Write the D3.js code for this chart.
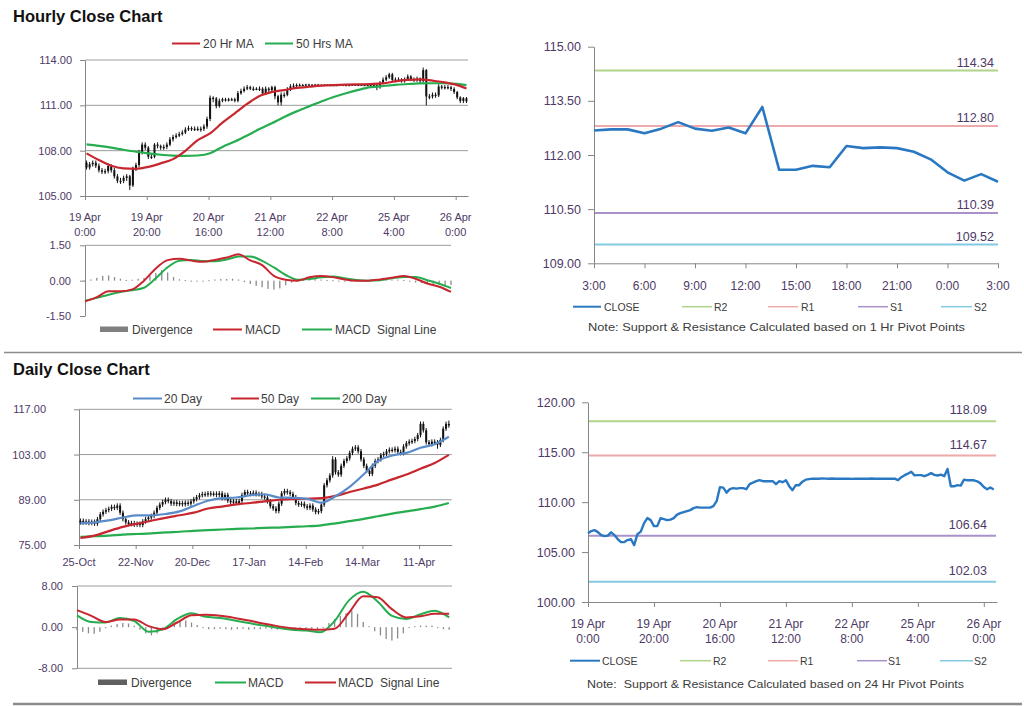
<!DOCTYPE html>
<html><head><meta charset="utf-8">
<script src="https://cdn.jsdelivr.net/npm/d3@7"></script>
<style>body{margin:0;background:#fff;}svg{display:block;}</style>
</head><body>
<svg id="c" width="1024" height="706"></svg>
<script>
// ---------------- DATA ----------------
// Hourly candles (19 Apr 0:00 .. 26 Apr 3:00)
const hourlyOpen = [107.2,106.89,107.1,107.2,107.0,106.7,106.6,106.65,106.98,106.7,
106.3,106.0,106.0,106.2,106.3,105.7,106.8,107.05,107.9,108.4,
108.2,107.6,107.6,108.4,108.3,108.2,108.25,108.4,108.75,108.9,
109.0,109.1,109.2,109.4,109.5,109.45,109.45,109.45,109.45,109.6,
110.1,111.5,111.45,110.95,111.3,111.4,111.35,111.4,111.4,111.3,
111.8,111.95,112.1,112.2,112.1,112.1,112.1,112.1,111.8,112.1,
112.0,112.2,111.6,111.2,111.7,111.7,112.05,112.25,112.3,112.35,
112.35,112.35,112.38,112.36,112.35,112.37,112.35,112.34,112.36,112.35,
112.35,112.33,112.35,112.36,112.35,112.34,112.35,112.37,112.35,112.36,
112.35,112.34,112.35,112.36,112.35,112.2,112.5,112.7,112.85,113.05,
112.68,112.71,112.71,112.60,112.73,112.91,112.73,112.67,112.76,112.60,
113.33,111.59,111.59,111.70,111.66,112.25,112.19,112.21,112.19,112.09,
111.88,111.52,111.29,111.47];
const hourlyHigh = [107.35,107.25,107.35,107.35,107.15,106.85,106.8,107.15,107.1,106.85,
106.45,106.2,106.35,106.45,106.4,106.95,107.2,108.05,108.55,108.55,
108.3,107.8,108.5,108.55,108.4,108.4,108.55,108.9,109.05,109.15,
109.25,109.35,109.55,109.65,109.6,109.6,109.6,109.6,109.75,110.25,
111.65,111.6,111.55,111.45,111.5,111.5,111.5,111.5,111.5,111.95,
112.1,112.25,112.35,112.3,112.25,112.2,112.25,112.2,112.25,112.2,
112.3,112.3,111.7,111.85,111.85,112.2,112.4,112.45,112.45,112.45,
112.42,112.43,112.43,112.41,112.42,112.42,112.4,112.41,112.41,112.4,
112.4,112.4,112.41,112.41,112.4,112.4,112.42,112.42,112.41,112.41,
112.4,112.4,112.41,112.41,112.4,112.6,112.85,113.0,113.15,113.15,
112.85,112.85,112.8,112.85,113.05,113.0,112.85,112.9,112.85,113.5,
113.4,111.75,111.85,111.85,112.4,112.35,112.35,112.35,112.3,112.2,
111.95,111.6,111.55,111.55];
const hourlyLow = [106.75,106.75,106.95,106.85,106.55,106.45,106.45,106.5,106.55,106.15,
105.85,105.8,105.85,106.0,105.4,105.6,106.65,106.9,107.75,108.05,
107.45,107.45,107.5,108.15,108.05,108.05,108.1,108.3,108.6,108.8,
108.9,109.0,109.1,109.3,109.3,109.3,109.3,109.25,109.3,109.45,
109.95,111.2,110.8,110.85,111.2,111.25,111.25,111.3,111.2,111.2,
111.7,111.85,112.0,112.0,111.95,112.0,111.95,111.65,111.7,111.85,
111.9,111.4,111.0,111.0,111.5,111.6,111.95,112.15,112.2,112.25,
112.3,112.3,112.31,112.3,112.3,112.3,112.29,112.29,112.3,112.3,
112.28,112.28,112.3,112.3,112.29,112.29,112.3,112.3,112.3,112.3,
112.29,112.29,112.3,112.3,112.0,112.1,112.4,112.6,112.75,112.55,
112.55,112.6,112.5,112.5,112.65,112.6,112.55,112.55,112.45,112.5,
111.0,111.4,111.45,111.5,111.55,112.05,112.05,112.05,111.95,111.75,
111.4,111.15,111.15,111.15];
const hourlyClose = [106.89,107.1,107.2,107.0,106.7,106.6,106.65,106.98,106.7,106.3,
106.0,106.0,106.2,106.3,105.7,106.8,107.05,107.9,108.4,108.2,
107.6,107.6,108.4,108.3,108.2,108.25,108.4,108.75,108.9,109.0,
109.1,109.2,109.4,109.5,109.45,109.45,109.45,109.45,109.6,110.1,
111.5,111.45,110.95,111.3,111.4,111.35,111.4,111.4,111.3,111.8,
111.95,112.1,112.2,112.1,112.1,112.1,112.1,111.8,112.1,112.0,
112.2,111.6,111.2,111.7,111.7,112.05,112.25,112.3,112.35,112.35,
112.35,112.38,112.36,112.35,112.37,112.35,112.34,112.36,112.35,112.35,
112.33,112.35,112.36,112.35,112.34,112.35,112.37,112.35,112.36,112.35,
112.34,112.35,112.36,112.35,112.2,112.5,112.7,112.85,113.05,112.68,
112.71,112.71,112.60,112.73,112.91,112.73,112.67,112.76,112.60,113.33,
111.59,111.59,111.70,111.66,112.25,112.19,112.21,112.19,112.09,111.88,
111.52,111.29,111.47,111.26];
const hourlyTickDates = ["19 Apr","19 Apr","20 Apr","21 Apr","22 Apr","25 Apr","26 Apr"];
const hourlyTickTimes = ["0:00","20:00","16:00","12:00","8:00","4:00","0:00"];
const hourlyTickIdx = [0,20,40,60,80,100,120];

// Hourly moving averages (bar index, value)
const hourlyMAIdx = [0,4,8,12,16,20,24,28,32,36,40,44,48,52,56,60,64,68,72,76,80,84,88,92,96,100,104,108,112,116,120,123];
const ma20Hr = [107.82,107.38,107.0,106.83,106.8,106.93,107.16,107.44,107.99,108.7,109.15,109.85,110.47,111.09,111.62,111.88,112.01,112.15,112.23,112.3,112.34,112.37,112.39,112.41,112.45,112.59,112.68,112.72,112.63,112.52,112.34,112.12];
const ma50Hr = [108.42,108.32,108.2,108.06,107.93,107.82,107.73,107.67,107.65,107.68,107.83,108.25,108.6,109.0,109.43,109.82,110.23,110.6,110.93,111.25,111.55,111.8,112.02,112.2,112.28,112.35,112.41,112.45,112.46,112.46,112.42,112.34];

// Hourly MACD (every 4th bar) and divergence (every 2nd bar)
const hMacdStep = 4;
const hourlyMacd = [-0.88,-0.7,-0.45,-0.45,-0.37,0.0,0.52,0.87,0.93,0.85,0.8,0.88,0.98,1.12,0.86,0.66,0.2,0.04,0.0,0.14,0.2,0.15,0.05,0.0,0.0,0.05,0.12,0.2,0.08,-0.12,-0.26,-0.48];
const hourlySignal = [-0.85,-0.73,-0.6,-0.48,-0.41,-0.3,0.1,0.57,0.84,0.88,0.83,0.82,0.9,1.02,1.03,0.84,0.56,0.24,0.04,0.07,0.14,0.18,0.1,0.03,0.0,0.02,0.1,0.16,0.15,0.02,-0.13,-0.31];
const hDivStep = 2;
const hourlyDivergence = [0.0,0.05,0.12,0.2,0.22,0.15,0.08,0.03,0.04,0.08,0.12,0.2,0.32,0.45,0.35,0.15,0.06,0.03,0.0,-0.03,-0.03,0.02,0.05,0.07,0.07,0.08,0.05,-0.06,-0.14,-0.22,-0.28,-0.35,-0.38,-0.33,-0.2,-0.08,-0.02,0.03,0.05,0.06,0.05,0.03,0.02,-0.02,-0.03,-0.03,-0.02,0.0,0.02,0.03,0.04,0.04,0.05,0.05,0.03,-0.04,-0.08,-0.1,-0.13,-0.15,-0.16,-0.18,-0.18];

// Last 24h closes (3:00 .. 3:00) with 1 Hr pivots
const recentClose = [112.68,112.71,112.71,112.60,112.73,112.91,112.73,112.67,112.76,112.60,113.33,111.59,111.59,111.70,111.66,112.25,112.19,112.21,112.19,112.09,111.88,111.52,111.29,111.47,111.26];
const recentTickLabels = ["3:00","6:00","9:00","12:00","15:00","18:00","21:00","0:00","3:00"];
const hourPivotNames = ["R2","R1","S1","S2"];
const hourPivots = [114.34,112.80,110.39,109.52];
const dayPivots = [118.09,114.67,106.64,102.03];

// Daily candles (25-Oct .. 26-Apr)
const dailyOpen = [82.0,82.5,82.0,82.3,81.8,82.2,81.6,83.0,84.5,85.3,
85.8,86.2,86.8,86.5,87.2,85.0,83.0,82.0,81.5,81.8,
81.3,81.6,81.2,82.3,83.0,83.5,84.0,85.0,86.5,87.5,
88.3,89.0,88.6,87.8,88.2,87.7,88.0,87.6,88.1,87.8,
88.5,89.2,89.8,90.4,90.8,90.6,91.0,90.7,90.9,90.5,
91.0,89.5,90.5,88.7,88.2,88.5,88.0,88.6,90.5,91.4,
91.0,90.8,91.2,90.7,90.8,90.0,89.7,88.5,87.0,86.3,
85.5,87.8,91.0,91.7,91.3,90.8,89.8,88.0,87.5,87.8,
87.0,86.5,87.2,86.0,85.2,85.5,87.5,93.5,95.0,96.5,
101.5,97.5,96.8,99.5,101.0,101.8,103.5,104.8,105.2,104.0,
101.5,99.5,98.0,97.0,99.5,101.0,101.5,102.8,103.2,104.0,
104.5,104.3,104.8,103.8,103.4,105.5,106.5,107.0,107.2,107.8,
109.0,112.5,110.5,106.8,106.2,107.0,106.8,106.0,107.5,111.0,
112.5];
const dailyHigh = [83.2,83.2,83.0,83.0,82.9,82.9,83.7,85.2,86.0,86.5,
86.9,87.5,87.5,87.9,87.9,85.7,83.7,82.7,82.5,82.5,
82.3,82.3,83.0,83.7,84.2,84.7,85.7,87.2,88.2,89.0,
89.7,89.7,89.3,88.9,88.9,88.7,88.7,88.8,88.8,89.2,
89.9,90.5,91.1,91.5,91.5,91.7,91.7,91.6,91.6,91.7,
91.7,91.2,91.2,89.4,89.2,89.2,89.3,91.2,92.1,92.1,
91.7,91.9,91.9,91.5,91.5,90.7,90.4,89.2,87.7,87.0,
88.5,91.7,92.4,92.4,92.0,91.5,90.5,88.7,88.5,88.5,
87.7,87.9,87.9,86.7,86.2,88.2,94.2,95.7,97.2,102.5,
102.2,98.2,100.2,101.7,102.5,104.2,105.5,105.9,105.9,104.7,
102.2,100.2,98.7,100.2,101.7,102.2,103.5,103.9,104.7,105.2,
105.2,105.5,105.5,104.5,106.2,107.2,107.7,107.9,108.5,109.7,
113.2,113.2,111.2,107.5,107.7,107.7,107.5,108.2,111.7,113.2,
113.5];
const dailyLow = [81.3,81.3,81.3,81.1,81.1,80.9,80.9,82.3,83.8,84.6,
85.1,85.5,85.8,85.8,84.3,82.3,81.3,80.8,80.8,80.6,
80.6,80.5,80.5,81.6,82.3,82.8,83.3,84.3,85.8,86.8,
87.6,87.9,87.1,87.1,87.0,87.0,86.9,86.9,87.1,87.1,
87.8,88.5,89.1,89.7,89.9,89.9,90.0,90.0,89.8,89.8,
88.8,88.8,88.0,87.5,87.5,87.3,87.3,87.9,89.8,90.3,
90.1,90.1,90.0,90.0,89.3,89.0,87.8,86.3,85.6,84.8,
84.8,87.1,90.3,90.6,90.1,89.1,87.3,86.8,86.8,86.3,
85.8,85.8,85.3,84.5,84.5,84.8,86.8,92.8,94.3,95.8,
96.8,96.1,96.1,98.8,100.3,101.1,102.8,104.1,103.3,100.8,
98.8,97.3,96.3,96.3,98.8,100.3,100.8,102.1,102.5,103.3,
103.6,103.6,103.1,102.7,102.7,104.8,105.8,106.3,106.5,107.1,
108.3,109.8,106.1,105.5,105.5,106.1,104.8,105.3,106.8,110.3,
111.3];
const dailyClose = [82.5,82.0,82.3,81.8,82.2,81.6,83.0,84.5,85.3,85.8,
86.2,86.8,86.5,87.2,85.0,83.0,82.0,81.5,81.8,81.3,
81.6,81.2,82.3,83.0,83.5,84.0,85.0,86.5,87.5,88.3,
89.0,88.6,87.8,88.2,87.7,88.0,87.6,88.1,87.8,88.5,
89.2,89.8,90.4,90.8,90.6,91.0,90.7,90.9,90.5,91.0,
89.5,90.5,88.7,88.2,88.5,88.0,88.6,90.5,91.4,91.0,
90.8,91.2,90.7,90.8,90.0,89.7,88.5,87.0,86.3,85.5,
87.8,91.0,91.7,91.3,90.8,89.8,88.0,87.5,87.8,87.0,
86.5,87.2,86.0,85.2,85.5,87.5,93.5,95.0,96.5,101.5,
97.5,96.8,99.5,101.0,101.8,103.5,104.8,105.2,104.0,101.5,
99.5,98.0,97.0,99.5,101.0,101.5,102.8,103.2,104.0,104.5,
104.3,104.8,103.8,103.4,105.5,106.5,107.0,107.2,107.8,109.0,
112.5,110.5,106.8,106.2,107.0,106.8,106.0,107.5,111.0,112.5,
112.0];
const dailyTickLabels = ["25-Oct","22-Nov","20-Dec","17-Jan","14-Feb","14-Mar","11-Apr"];
const dailyTickIdx = [0,20,40,60,80,100,120];

// Daily moving averages (every 5th bar)
const dMAStep = 5;
const ma20Day = [81.7,82.0,82.6,83.5,84.2,84.2,84.6,85.4,87.1,88.7,89.5,89.7,90.4,90.7,89.7,89.6,89.3,88.1,90.1,93.0,96.9,101.0,102.7,103.5,105.1,106.2,108.5];
const ma50Day = [77.2,77.9,79.3,80.6,81.6,82.5,83.4,84.2,85.0,86.3,86.9,87.6,88.0,88.5,89.0,89.2,89.3,89.5,90.2,91.4,92.5,93.7,95.3,96.8,98.6,100.4,102.9];
const ma200Day = [77.5,77.7,77.9,78.2,78.4,78.6,78.9,79.1,79.4,79.6,79.8,80.0,80.1,80.3,80.4,80.6,80.8,81.1,81.7,82.4,83.1,83.9,84.7,85.4,86.1,86.9,88.0];

// Daily MACD (every 5th bar), divergence (every 2nd bar)
const dMacdStep = 5;
const dailyMacd = [2.3,1.0,0.9,1.8,1.2,-0.9,-0.4,1.6,2.7,2.0,1.8,1.3,0.8,0.3,-0.1,-0.5,-0.65,-1.0,1.2,5.2,6.9,5.0,2.2,1.6,2.5,3.2,1.9];
const dailySignal = [3.3,2.2,1.0,1.5,1.5,0.2,-0.4,0.9,2.3,2.4,2.2,1.8,1.3,0.7,0.2,-0.2,-0.4,-0.5,-0.3,2.8,6.0,5.8,3.5,1.9,2.1,2.6,2.6];
const dDivStep = 2;
const dailyDivergence = [-0.6,-0.9,-1.2,-1.3,-0.9,-0.2,0.3,0.6,0.8,0.7,
0.3,-0.5,-1.2,-1.6,-1.2,-0.5,0.3,0.9,1.2,1.3,
0.9,0.4,-0.2,-0.4,-0.4,-0.3,-0.4,-0.5,-0.4,-0.3,
-0.5,-0.4,-0.4,-0.3,-0.4,-0.5,-0.3,-0.3,-0.4,-0.3,
-0.3,-0.4,-0.5,-0.2,0.8,1.6,2.2,2.7,3.2,2.6,
1.0,0.2,-0.8,-1.6,-2.3,-2.6,-2.2,-1.2,-0.2,0.2,
0.3,0.3,0.3,-0.2,-0.4,-0.5];

// ---------------- DRAWING ----------------
const svg = d3.select('#c');
const FONT = '"Liberation Sans", Arial, Helvetica, sans-serif';
const LBL = '#4e3a66';
const TXT = '#3c3c3c';
const AXC = '#868686';
const GRIDC = '#9c9c9c';
const RED = '#c8262e', GREEN = '#26ad4f', BLUE20 = '#5a8bc9', CLOSEC = '#2a78c2';
const PIVC = ['#afd48a', '#eeaaaa', '#a892c9', '#83c9e2'];
const fmt2 = d => d.toFixed(2);

function txt(x, y, s, o = {}) {
  const t = svg.append('text').attr('x', x).attr('y', y).text(s)
    .attr('font-family', FONT).attr('font-size', o.size || 11)
    .attr('fill', o.fill || TXT).attr('text-anchor', o.anchor || 'start');
  if (o.weight) t.attr('font-weight', o.weight);
  if (o.len) t.attr('textLength', o.len).attr('lengthAdjust', 'spacingAndGlyphs');
  if (o.space) t.attr('xml:space', 'preserve').style('white-space', 'pre');
  return t;
}
function hline(x1, x2, y, color, w) {
  svg.append('line').attr('x1', x1).attr('x2', x2).attr('y1', y).attr('y2', y)
    .attr('stroke', color).attr('stroke-width', w || 1);
}
function leftAxis(y, x0, vals, tickLen, pad, size) {
  const g = svg.append('g').attr('transform', `translate(${x0},0)`)
    .call(d3.axisLeft(y).tickValues(vals).tickFormat(fmt2)
      .tickSize(tickLen).tickSizeOuter(0).tickPadding(pad));
  g.select('.domain').attr('stroke', AXC);
  g.selectAll('.tick line').attr('stroke', AXC);
  g.selectAll('.tick text').attr('fill', LBL).attr('font-family', FONT).attr('font-size', size);
  return g;
}
function bottomAxis(x, y0, vals, tickLen) {
  const g = svg.append('g').attr('transform', `translate(0,${y0})`)
    .call(d3.axisBottom(x).tickValues(vals).tickFormat('').tickSize(tickLen).tickSizeOuter(0));
  g.select('.domain').attr('stroke', AXC);
  g.selectAll('.tick line').attr('stroke', AXC);
  return g;
}
function grid(x, y, vals) {
  svg.append('g').selectAll('line').data(vals).join('line')
    .attr('x1', x.range()[0]).attr('x2', x.range()[1])
    .attr('y1', d => y(d)).attr('y2', d => y(d)).attr('stroke', GRIDC).attr('stroke-width', 1);
}
function candles(x, y, O, H, L, C, w) {
  const g = svg.append('g');
  const idx = d3.range(C.length);
  g.selectAll('line').data(idx).join('line')
    .attr('x1', i => x(i + 0.5)).attr('x2', i => x(i + 0.5))
    .attr('y1', i => y(H[i])).attr('y2', i => y(L[i]))
    .attr('stroke', '#111').attr('stroke-width', 1);
  g.selectAll('rect').data(idx).join('rect')
    .attr('x', i => x(i + 0.5) - w / 2).attr('width', w)
    .attr('y', i => y(Math.max(O[i], C[i])))
    .attr('height', i => Math.max(1.3, Math.abs(y(O[i]) - y(C[i]))))
    .attr('fill', '#111');
}
function seriesIdx(x, y, idx, vals, color, w, off) {
  svg.append('path').datum(vals)
    .attr('d', d3.line().x((d, i) => x(idx[i] + (off || 0))).y(d => y(d)).curve(d3.curveMonotoneX))
    .attr('fill', 'none').attr('stroke', color).attr('stroke-width', w)
    .attr('stroke-linejoin', 'round');
}
function seriesStep(x, y, vals, step, color, w, off, curve) {
  svg.append('path').datum(vals)
    .attr('d', d3.line().x((d, i) => x(i * step + (off || 0))).y(d => y(d)).curve(curve || d3.curveMonotoneX))
    .attr('fill', 'none').attr('stroke', color).attr('stroke-width', w)
    .attr('stroke-linejoin', 'round');
}
function divBars(x, y, vals, step, w) {
  svg.append('g').selectAll('rect').data(vals).join('rect')
    .attr('x', (d, i) => x(i * step) - w / 2).attr('width', w)
    .attr('y', d => Math.min(y(0), y(d)))
    .attr('height', d => Math.max(1, Math.abs(y(d) - y(0))))
    .attr('fill', '#8a8a8a');
}
function legLine(x1, x2, y, color, w) { hline(x1, x2, y, color, w || 2); }

// ---- titles & separators ----
txt(13, 21.5, 'Hourly Close Chart', { size: 16.5, weight: 'bold', fill: '#111' });
txt(13, 375, 'Daily Close Chart', { size: 16.5, weight: 'bold', fill: '#111' });
hline(4, 1022, 352.5, '#8c8c8c', 1.5);
hline(13, 1022, 704, '#8c8c8c', 2.5);

// ================= HOURLY CANDLE CHART =================
{
  const x = d3.scaleLinear().domain([0, 124]).range([85, 468]);
  const y = d3.scaleLinear().domain([105, 114]).range([196, 60]);
  grid(x, y, [108, 111, 114]);
  leftAxis(y, 85, [105, 108, 111, 114], 5, 8, 11);
  bottomAxis(x, 196, hourlyTickIdx, 4);
  hourlyTickIdx.forEach((t, k) => {
    txt(x(t), 221, hourlyTickDates[k], { size: 11, anchor: 'middle', fill: LBL });
    txt(x(t), 235.5, hourlyTickTimes[k], { size: 11, anchor: 'middle', fill: LBL });
  });
  candles(x, y, hourlyOpen, hourlyHigh, hourlyLow, hourlyClose, 2);
  seriesIdx(x, y, hourlyMAIdx, ma50Hr, GREEN, 2.2, 0.5);
  seriesIdx(x, y, hourlyMAIdx, ma20Hr, RED, 2.2, 0.5);
  legLine(172, 200, 43.5, RED); txt(203, 47.5, '20 Hr MA', { size: 12 });
  legLine(265, 293, 43.5, GREEN); txt(296, 47.5, '50 Hrs MA', { size: 12 });
}
// ================= HOURLY MACD =================
{
  const x = d3.scaleLinear().domain([0, 124]).range([85, 451]);
  const y = d3.scaleLinear().domain([-1.5, 1.5]).range([316, 245.3]);
  grid(x, y, [1.5]);
  leftAxis(y, 85, [-1.5, 0, 1.5], 5, 9, 11);
  divBars(x, y, hourlyDivergence, hDivStep, 1.3);
  seriesStep(x, y, hourlySignal, hMacdStep, GREEN, 2);
  seriesStep(x, y, hourlyMacd, hMacdStep, RED, 2);
  svg.append('rect').attr('x', 100).attr('y', 326.5).attr('width', 28).attr('height', 5.5).attr('fill', '#7f7f7f');
  txt(132, 333.5, 'Divergence', { size: 12 });
  legLine(213, 242, 329.5, RED); txt(245, 333.5, 'MACD', { size: 12 });
  legLine(302, 332, 329.5, GREEN); txt(335, 333.5, 'MACD  Signal Line', { size: 12, space: true });
}
// ================= HOURLY PIVOT CHART (last 24h) =================
{
  const x = d3.scaleLinear().domain([0, 24]).range([594, 998]);
  const y = d3.scaleLinear().domain([109, 115]).range([263.3, 46.7]);
  hourPivots.forEach((v, k) => {
    hline(594, 998, y(v), PIVC[k], 2);
    txt(994, y(v) - 4, v.toFixed(2), { size: 12.5, anchor: 'end', fill: LBL });
  });
  leftAxis(y, 594, [109, 110.5, 112, 113.5, 115], 6, 7, 12.5);
  bottomAxis(x, 263.3, d3.range(0, 25, 3), 5);
  recentTickLabels.forEach((s, k) => txt(x(k * 3), 289.5, s, { size: 12, anchor: 'middle', fill: LBL }));
  seriesStep(x, y, recentClose, 1, CLOSEC, 2.6, 0, d3.curveLinear);
  legLine(573, 601, 306.7, CLOSEC, 2); txt(604, 310.5, 'CLOSE', { size: 10.5 });
  legLine(682, 712, 306.7, PIVC[0], 1.5); txt(714, 310.5, 'R2', { size: 10.5 });
  legLine(768, 798, 306.7, PIVC[1], 1.5); txt(801, 310.5, 'R1', { size: 10.5 });
  legLine(858, 888, 306.7, PIVC[2], 1.5); txt(890, 310.5, 'S1', { size: 10.5 });
  legLine(941, 972, 306.7, PIVC[3], 1.5); txt(974, 310.5, 'S2', { size: 10.5 });
  txt(588, 331, 'Note: Support & Resistance Calculated based on 1 Hr Pivot Points', { size: 11.5, len: 377 });
}
// ================= DAILY CANDLE CHART =================
{
  const x = d3.scaleLinear().domain([0, 131.5]).range([79, 451.7]);
  const y = d3.scaleLinear().domain([75, 117]).range([545, 409.3]);
  grid(x, y, [89, 103, 117]);
  leftAxis(y, 79, [75, 89, 103, 117], 5, 28, 11);
  bottomAxis(x, 545, dailyTickIdx, 4);
  dailyTickIdx.forEach((t, k) => txt(x(t), 566, dailyTickLabels[k], { size: 11, anchor: 'middle', fill: LBL }));
  candles(x, y, dailyOpen, dailyHigh, dailyLow, dailyClose, 2);
  seriesStep(x, y, ma200Day, dMAStep, GREEN, 2.2, 0.5);
  seriesStep(x, y, ma50Day, dMAStep, RED, 2.2, 0.5);
  seriesStep(x, y, ma20Day, dMAStep, BLUE20, 2.2, 0.5);
  legLine(133, 162, 398.5, BLUE20); txt(164, 402.5, '20 Day', { size: 12 });
  legLine(231, 259, 398.5, RED); txt(261, 402.5, '50 Day', { size: 12 });
  legLine(311, 340, 398.5, GREEN); txt(342, 402.5, '200 Day', { size: 12 });
}
// ================= DAILY MACD =================
{
  const x = d3.scaleLinear().domain([0, 131]).range([77, 452]);
  const y = d3.scaleLinear().domain([-8, 8]).range([668.3, 586]);
  grid(x, y, [8, -8]);
  leftAxis(y, 77, [-8, 0, 8], 5, 9, 11);
  divBars(x, y, dailyDivergence, dDivStep, 1.3);
  seriesStep(x, y, dailyMacd, dMacdStep, GREEN, 2);
  seriesStep(x, y, dailySignal, dMacdStep, RED, 2);
  svg.append('rect').attr('x', 98).attr('y', 679.5).attr('width', 29).attr('height', 5.5).attr('fill', '#5f5f5f');
  txt(131, 686.5, 'Divergence', { size: 12 });
  legLine(215, 246, 682.5, GREEN); txt(248, 686.5, 'MACD', { size: 12 });
  legLine(305, 336, 682.5, RED); txt(338, 686.5, 'MACD  Signal Line', { size: 12, space: true });
}
// ================= DAILY PIVOT CHART (hourly closes) =================
{
  const x = d3.scaleLinear().domain([0, 124]).range([588, 997]);
  const y = d3.scaleLinear().domain([100, 120]).range([602, 402.3]);
  dayPivots.forEach((v, k) => {
    hline(588, 996, y(v), PIVC[k], 2);
    txt(987, y(v) - 7, v.toFixed(2), { size: 12.5, anchor: 'end', fill: LBL });
  });
  leftAxis(y, 588, [100, 105, 110, 115, 120], 6, 7, 12.5);
  bottomAxis(x, 602, hourlyTickIdx, 5);
  hourlyTickIdx.forEach((t, k) => {
    txt(x(t), 627.5, hourlyTickDates[k], { size: 12, anchor: 'middle', fill: LBL });
    txt(x(t), 642.5, hourlyTickTimes[k], { size: 12, anchor: 'middle', fill: LBL });
  });
  seriesStep(x, y, hourlyClose, 1, CLOSEC, 2.4, 0, d3.curveLinear);
  legLine(570, 600, 660.7, CLOSEC, 2); txt(602, 664.5, 'CLOSE', { size: 10.5 });
  legLine(680, 711, 660.7, PIVC[0], 1.5); txt(713, 664.5, 'R2', { size: 10.5 });
  legLine(768, 798, 660.7, PIVC[1], 1.5); txt(800, 664.5, 'R1', { size: 10.5 });
  legLine(857, 887, 660.7, PIVC[2], 1.5); txt(888, 664.5, 'S1', { size: 10.5 });
  legLine(940, 973, 660.7, PIVC[3], 1.5); txt(974, 664.5, 'S2', { size: 10.5 });
  txt(587, 688, 'Note:  Support & Resistance Calculated based on 24 Hr Pivot Points', { size: 11.5, len: 377, space: true });
}
</script>
</body></html>
